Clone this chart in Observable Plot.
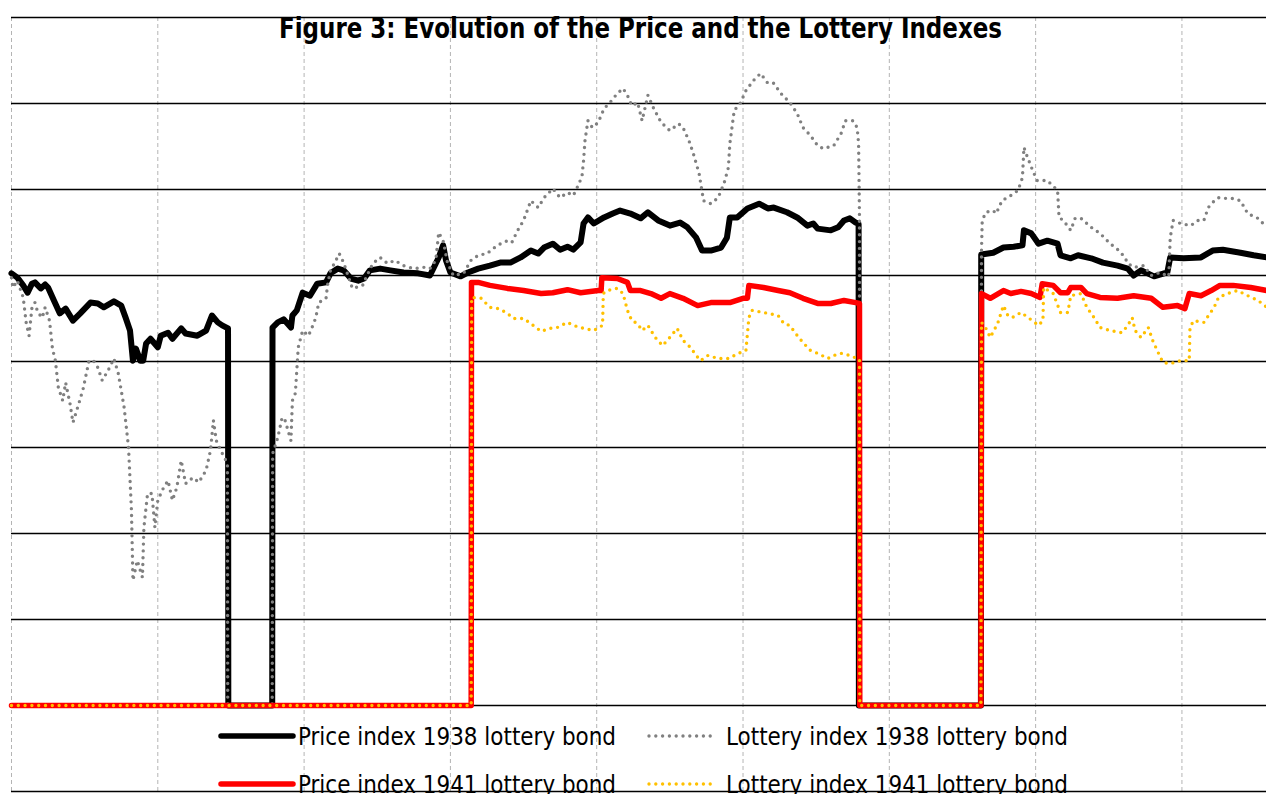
<!DOCTYPE html>
<html>
<head>
<meta charset="utf-8">
<script src="https://cdn.jsdelivr.net/npm/d3@7"></script>
<script src="https://cdn.jsdelivr.net/npm/@observablehq/plot@0.6"></script>
<style>
  html, body { margin: 0; padding: 0; background: #fff; }
  #wrap { position: relative; width: 1266px; height: 794px; overflow: hidden; }
  #wrap svg.overlay { position: absolute; left: 0; top: 0; pointer-events: none; }
</style>
</head>
<body>
<div id="wrap"></div>
<script>
// ---------------- DATA (x = decimal year, y = index value) ----------------
const titleText = "Figure 3: Evolution of the Price and the Lottery Indexes";
const seriesNames = [
  "Price index 1938 lottery bond",
  "Lottery index 1938 lottery bond",
  "Price index 1941 lottery bond",
  "Lottery index 1941 lottery bond"
];
const yearTicks = [1939, 1940, 1941, 1942, 1943, 1944, 1945, 1946, 1947];
const valueTicks = [-20, 0, 20, 40, 60, 80, 100, 120, 140, 160];

const price1938 = [
  [1939.00,100.5],[1939.04,99.5],[1939.08,97.7],[1939.11,96.0],[1939.14,98.1],[1939.16,98.4],
  [1939.20,97.0],[1939.23,97.9],[1939.25,97.2],[1939.29,94.2],[1939.33,91.2],[1939.37,92.3],
  [1939.42,89.5],[1939.47,91.2],[1939.54,93.7],[1939.59,93.5],[1939.63,92.6],[1939.70,94.0],
  [1939.75,93.0],[1939.78,90.2],[1939.81,87.2],[1939.83,80.2],[1939.85,83.0],[1939.88,80.2],
  [1939.90,80.2],[1939.92,84.2],[1939.95,85.3],[1940.00,83.3],[1940.02,86.0],[1940.07,86.7],
  [1940.10,85.3],[1940.16,87.7],[1940.19,86.5],[1940.27,86.0],[1940.33,87.2],[1940.37,90.7],
  [1940.41,89.1],[1940.44,88.4],[1940.48,87.7],[1940.482,0],[1940.782,0],[1940.784,87.9],
  [1940.82,89.1],[1940.86,89.8],[1940.91,87.9],[1940.92,90.7],[1940.95,91.9],[1940.99,96.0],
  [1941.04,95.3],[1941.09,98.1],[1941.15,98.4],[1941.18,100.5],[1941.23,101.6],[1941.27,101.2],
  [1941.32,99.3],[1941.37,98.8],[1941.41,99.3],[1941.45,101.2],[1941.52,101.6],[1941.59,101.2],
  [1941.68,100.7],[1941.78,100.5],[1941.86,100.0],[1941.90,102.8],[1941.92,104.2],[1941.95,107.0],
  [1941.97,103.5],[1942.00,100.7],[1942.07,99.8],[1942.12,100.7],[1942.19,101.6],[1942.27,102.3],
  [1942.34,103.0],[1942.41,103.0],[1942.48,104.2],[1942.55,105.8],[1942.60,105.1],[1942.64,106.5],
  [1942.70,107.4],[1942.75,106.0],[1942.80,106.7],[1942.84,106.0],[1942.89,107.7],[1942.91,112.1],
  [1942.94,113.5],[1942.98,112.1],[1943.05,113.5],[1943.11,114.4],[1943.16,115.1],[1943.23,114.4],
  [1943.30,113.3],[1943.35,114.7],[1943.42,112.8],[1943.50,111.6],[1943.57,112.3],[1943.62,111.2],
  [1943.68,108.8],[1943.72,105.8],[1943.78,105.8],[1943.85,106.5],[1943.89,108.8],[1943.91,113.5],
  [1943.96,113.5],[1944.03,115.6],[1944.11,116.7],[1944.17,115.6],[1944.21,115.8],[1944.30,114.7],
  [1944.37,113.5],[1944.44,111.6],[1944.48,112.1],[1944.51,110.9],[1944.60,110.5],[1944.65,111.2],
  [1944.69,112.8],[1944.73,113.3],[1944.77,112.3],[1944.79,112.0],[1944.792,0],[1945.626,0],
  [1945.628,104.9],[1945.71,105.3],[1945.78,106.5],[1945.85,106.7],[1945.91,107.0],[1945.92,110.5],
  [1945.97,109.8],[1946.02,107.4],[1946.08,108.1],[1946.15,107.4],[1946.17,104.7],[1946.24,104.0],
  [1946.29,104.7],[1946.38,104.0],[1946.46,103.0],[1946.56,102.3],[1946.63,101.6],[1946.67,100.0],
  [1946.72,101.2],[1946.81,99.8],[1946.90,100.7],[1946.92,104.2],[1947.01,104.0],[1947.13,104.2],
  [1947.21,105.8],[1947.28,106.0],[1947.40,105.3],[1947.49,104.7],[1947.58,104.2]
];

const lottery1938 = [
  [1939.00,99.5],[1939.01,97.2],[1939.04,98.8],[1939.08,94.9],[1939.10,89.1],[1939.12,86.0],
  [1939.14,92.6],[1939.16,93.7],[1939.18,91.4],[1939.21,90.2],[1939.23,92.6],[1939.26,89.5],
  [1939.28,83.0],[1939.30,80.2],[1939.32,74.0],[1939.35,70.9],[1939.37,75.1],[1939.40,70.2],
  [1939.42,65.8],[1939.46,70.2],[1939.49,73.7],[1939.53,80.2],[1939.56,80.2],[1939.59,78.6],
  [1939.62,75.6],[1939.66,77.9],[1939.70,80.7],[1939.73,77.2],[1939.77,69.3],[1939.80,60.0],
  [1939.82,45.3],[1939.83,29.1],[1939.86,33.7],[1939.895,29.8],[1939.905,41.4],[1939.93,49.3],
  [1939.96,49.3],[1939.98,41.4],[1940.00,47.7],[1940.04,50.7],[1940.07,52.3],[1940.10,47.7],
  [1940.13,50.7],[1940.16,57.0],[1940.19,51.6],[1940.24,53.0],[1940.28,51.9],[1940.33,54.7],
  [1940.36,59.3],[1940.38,66.3],[1940.40,61.6],[1940.43,59.3],[1940.46,57.4],[1940.476,56.0],
  [1940.478,0],[1940.782,0],[1940.785,58.6],[1940.82,62.3],[1940.85,67.0],[1940.87,66.3],
  [1940.91,61.6],[1940.92,70.9],[1940.94,72.6],[1940.95,77.9],[1940.96,83.3],[1940.99,87.2],
  [1941.03,86.0],[1941.06,88.4],[1941.08,90.2],[1941.10,93.7],[1941.15,94.7],[1941.16,97.7],
  [1941.18,101.2],[1941.21,103.0],[1941.24,105.1],[1941.27,103.0],[1941.30,100.0],[1941.33,97.0],
  [1941.40,97.7],[1941.43,100.0],[1941.47,102.8],[1941.52,104.2],[1941.57,102.8],[1941.62,103.5],
  [1941.68,102.3],[1941.75,101.6],[1941.82,101.9],[1941.86,101.6],[1941.90,103.5],[1941.92,110.0],
  [1941.95,108.1],[1941.98,103.0],[1942.02,100.0],[1942.09,100.5],[1942.14,103.5],[1942.19,104.7],
  [1942.25,105.1],[1942.32,107.0],[1942.39,108.1],[1942.42,107.7],[1942.46,110.5],[1942.50,112.8],
  [1942.55,117.4],[1942.60,115.8],[1942.64,118.1],[1942.70,120.2],[1942.75,118.1],[1942.80,119.3],
  [1942.84,118.6],[1942.88,121.4],[1942.90,123.3],[1942.91,126.7],[1942.92,131.4],[1942.94,136.0],
  [1942.97,134.4],[1943.01,135.6],[1943.05,138.8],[1943.09,140.2],[1943.14,142.3],[1943.18,143.5],
  [1943.21,141.9],[1943.24,139.5],[1943.28,140.2],[1943.31,136.0],[1943.35,141.9],[1943.39,138.8],
  [1943.44,135.6],[1943.50,133.7],[1943.56,135.3],[1943.59,134.4],[1943.63,131.4],[1943.66,128.4],
  [1943.70,123.7],[1943.73,117.4],[1943.78,116.7],[1943.83,118.1],[1943.87,121.4],[1943.90,125.1],
  [1943.91,130.7],[1943.94,138.4],[1943.98,140.0],[1944.02,143.0],[1944.07,145.3],[1944.12,147.0],
  [1944.17,144.7],[1944.21,144.7],[1944.26,142.3],[1944.32,140.2],[1944.37,137.7],[1944.41,134.4],
  [1944.46,132.6],[1944.51,130.2],[1944.55,129.5],[1944.62,130.2],[1944.67,133.0],[1944.70,136.0],
  [1944.75,136.0],[1944.78,134.4],[1944.79,130.7],[1944.796,113.5],[1944.798,0],[1945.626,0],
  [1945.63,105.8],[1945.635,112.8],[1945.66,114.7],[1945.71,115.1],[1945.73,114.4],[1945.77,117.4],
  [1945.83,118.6],[1945.88,119.8],[1945.91,122.8],[1945.92,129.8],[1945.94,127.9],[1945.98,124.4],
  [1946.01,122.1],[1946.08,122.1],[1946.15,119.8],[1946.16,113.5],[1946.19,112.8],[1946.24,110.5],
  [1946.27,113.3],[1946.31,113.3],[1946.38,111.2],[1946.44,109.8],[1946.51,107.4],[1946.57,105.8],
  [1946.61,104.2],[1946.63,102.8],[1946.67,101.9],[1946.74,102.3],[1946.79,100.0],[1946.85,100.7],
  [1946.91,99.8],[1946.92,108.8],[1946.94,112.8],[1946.99,112.1],[1947.06,111.6],[1947.11,112.8],
  [1947.15,112.8],[1947.18,115.8],[1947.21,117.0],[1947.25,118.1],[1947.31,117.9],[1947.35,117.9],
  [1947.40,117.4],[1947.45,114.4],[1947.52,113.3],[1947.58,111.2]
];

const price1941 = [
  [1939.00,0],[1942.142,0],[1942.144,98.4],[1942.19,98.4],[1942.27,97.7],[1942.39,97.0],
  [1942.50,96.5],[1942.62,95.8],[1942.70,96.0],[1942.80,96.7],[1942.89,96.0],[1943.01,96.5],
  [1943.03,96.5],[1943.035,99.5],[1943.14,99.3],[1943.21,98.4],[1943.23,96.5],[1943.30,96.5],
  [1943.37,95.8],[1943.44,94.7],[1943.50,95.8],[1943.59,94.7],[1943.69,93.0],[1943.78,93.7],
  [1943.91,93.7],[1944.00,94.7],[1944.03,94.7],[1944.04,97.7],[1944.14,97.2],[1944.24,96.5],
  [1944.32,96.0],[1944.41,94.7],[1944.51,93.5],[1944.60,93.5],[1944.69,94.2],[1944.77,93.7],
  [1944.796,93.5],[1944.798,0],[1945.626,0],[1945.63,95.8],[1945.69,94.7],[1945.78,96.5],
  [1945.83,95.8],[1945.90,96.3],[1945.97,95.8],[1946.03,94.9],[1946.045,98.1],[1946.12,97.7],
  [1946.17,96.0],[1946.22,96.0],[1946.24,97.2],[1946.31,97.2],[1946.35,95.8],[1946.44,94.9],
  [1946.56,94.7],[1946.67,95.3],[1946.79,94.7],[1946.87,92.6],[1946.97,93.0],[1947.02,92.3],
  [1947.05,95.8],[1947.13,95.3],[1947.20,96.5],[1947.26,97.7],[1947.35,97.7],[1947.47,97.2],
  [1947.58,96.5]
];

const lottery1941 = [
  [1939.00,0],[1942.142,0],[1942.145,94.9],[1942.21,94.7],[1942.27,92.6],[1942.33,92.3],
  [1942.39,91.2],[1942.43,90.0],[1942.50,90.0],[1942.55,88.8],[1942.62,87.0],[1942.68,87.7],
  [1942.73,87.9],[1942.80,89.1],[1942.84,88.4],[1942.91,87.7],[1942.98,87.2],[1943.04,88.4],
  [1943.045,95.8],[1943.07,96.5],[1943.14,97.0],[1943.18,95.8],[1943.21,91.9],[1943.24,89.5],
  [1943.28,88.8],[1943.31,87.2],[1943.35,88.4],[1943.40,85.6],[1943.45,83.7],[1943.50,85.6],
  [1943.55,87.7],[1943.59,84.9],[1943.64,83.3],[1943.68,81.4],[1943.71,80.2],[1943.76,81.4],
  [1943.83,80.7],[1943.90,80.7],[1943.97,81.9],[1944.02,82.6],[1944.04,90.2],[1944.06,91.9],
  [1944.14,91.4],[1944.24,90.7],[1944.28,88.8],[1944.32,88.4],[1944.36,86.5],[1944.41,84.4],
  [1944.46,82.6],[1944.51,81.9],[1944.58,80.7],[1944.62,81.4],[1944.67,81.9],[1944.73,81.4],
  [1944.78,80.7],[1944.796,80.5],[1944.798,0],[1945.626,0],[1945.63,89.1],[1945.66,87.7],
  [1945.69,85.6],[1945.74,88.8],[1945.78,93.0],[1945.81,90.7],[1945.84,90.2],[1945.90,91.4],
  [1945.95,90.2],[1946.02,88.4],[1946.05,89.5],[1946.055,97.2],[1946.12,95.8],[1946.17,91.4],
  [1946.22,91.4],[1946.24,95.3],[1946.31,95.8],[1946.35,92.6],[1946.40,90.2],[1946.44,87.9],
  [1946.51,87.2],[1946.59,86.7],[1946.63,88.4],[1946.66,90.2],[1946.68,87.2],[1946.72,85.6],
  [1946.77,87.9],[1946.80,84.9],[1946.84,81.9],[1946.87,79.8],[1946.92,79.5],[1946.99,80.2],
  [1947.05,80.2],[1947.055,87.9],[1947.08,89.5],[1947.15,89.1],[1947.22,92.6],[1947.25,94.9],
  [1947.31,95.8],[1947.38,96.5],[1947.45,95.3],[1947.52,94.2],[1947.58,92.6]
];

const seriesColors = ["#000000", "#808080", "#ff0000", "#ffc000"];

// ---------------- CHART ----------------
const W = 1266, H = 794;
const lineOpts = (stroke, width, dotted) => ({
  x: d => d[0], y: d => d[1], stroke, strokeWidth: width,
  strokeLinejoin: "round", strokeLinecap: "round",
  strokeDasharray: dotted ? "0 6.8" : null
});

const chart = Plot.plot({
  width: W, height: H,
  marginLeft: 11, marginRight: 0, marginTop: 17, marginBottom: 3,
  style: { background: "#fff", overflow: "hidden" },
  x: { domain: [1939, 1947.578], axis: null },
  y: { domain: [-20, 160], axis: null },
  marks: [
    Plot.ruleX(yearTicks, { stroke: "#b4b4b4", strokeWidth: 1, strokeDasharray: "4,3" }),
    Plot.ruleY(valueTicks, { stroke: "#000", strokeWidth: 1.7 }),
    Plot.line(price1938, lineOpts(seriesColors[0], 6, false)),
    Plot.line(lottery1938, lineOpts(seriesColors[1], 3.4, true)),
    Plot.line(price1941, lineOpts(seriesColors[2], 5.5, false)),
    Plot.line(lottery1941, lineOpts(seriesColors[3], 3.4, true))
  ]
});
const wrap = document.getElementById("wrap");
wrap.appendChild(chart);

// ---------------- TITLE + LEGEND OVERLAY ----------------
const ov = d3.select(wrap).append("svg").attr("class", "overlay")
  .attr("width", W).attr("height", H);
const narrow = "'Liberation Sans Narrow', 'DejaVu Sans Condensed', 'Arial Narrow', 'Liberation Sans', sans-serif";

ov.append("text")
  .attr("x", 279).attr("y", 38)
  .attr("textLength", 723).attr("lengthAdjust", "spacingAndGlyphs")
  .style("font-family", narrow).style("font-weight", "bold").style("font-size", "29px")
  .attr("fill", "#000").text(titleText);

const legendItems = [
  { name: seriesNames[0], color: seriesColors[0], dotted: false, lx: 221, tx: 298, y: 736, tw: 318 },
  { name: seriesNames[1], color: seriesColors[1], dotted: true,  lx: 649, tx: 726, y: 736, tw: 342 },
  { name: seriesNames[2], color: seriesColors[2], dotted: false, lx: 221, tx: 298, y: 784, tw: 318 },
  { name: seriesNames[3], color: seriesColors[3], dotted: true,  lx: 649, tx: 726, y: 784, tw: 342 }
];
for (const it of legendItems) {
  const len = it.dotted ? 65 : 72;
  ov.append("line")
    .attr("x1", it.lx).attr("x2", it.lx + len).attr("y1", it.y).attr("y2", it.y)
    .attr("stroke", it.color).attr("stroke-width", it.dotted ? 3.4 : 5.5)
    .attr("stroke-linecap", "round")
    .attr("stroke-dasharray", it.dotted ? "0 6.8" : null);
  ov.append("text")
    .attr("x", it.tx).attr("y", it.y + 9)
    .attr("textLength", it.tw).attr("lengthAdjust", "spacingAndGlyphs")
    .style("font-family", narrow).style("font-size", "25px")
    .attr("fill", "#000").text(it.name);
}
</script>
</body>
</html>
